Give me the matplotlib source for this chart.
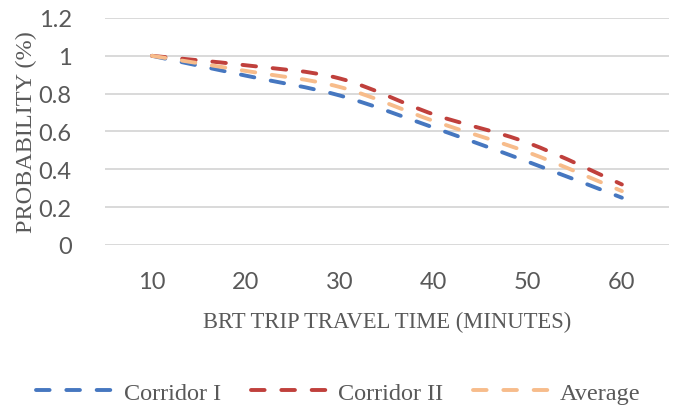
import matplotlib
matplotlib.use("Agg")
import matplotlib.pyplot as plt
from matplotlib.path import Path
from matplotlib.patches import PathPatch
from matplotlib.lines import Line2D
import numpy as np

times = [10, 20, 30, 40, 50, 60]
corridor_1 = [1.0, 0.895, 0.79, 0.62, 0.44, 0.25]
corridor_2 = [1.0, 0.95, 0.88, 0.69, 0.54, 0.32]
average = [1.0, 0.92, 0.835, 0.655, 0.49, 0.285]
y_ticks = [0, 0.2, 0.4, 0.6, 0.8, 1, 1.2]
y_tick_labels = ["0", "0.2", "0.4", "0.6", "0.8", "1", "1.2"]

series = [
    ("Corridor I", corridor_1, "#4677C0"),
    ("Corridor II", corridor_2, "#C0403C"),
    ("Average", average, "#F7BC8B"),
]

LW = 2.8
DASHES = (3.5, 4.3)
TEXT = "#595959"


def smooth_path(xs, ys):
    # excel-style smoothed line: catmull-rom segments as cubic beziers
    pts = np.column_stack([xs, ys]).astype(float)
    ext = np.vstack([pts[0], pts, pts[-1]])
    verts = [pts[0]]
    codes = [Path.MOVETO]
    for i in range(len(pts) - 1):
        p0, p1, p2, p3 = ext[i], ext[i + 1], ext[i + 2], ext[i + 3]
        verts += [p1 + (p2 - p0) / 6, p2 - (p3 - p1) / 6, p2]
        codes += [Path.CURVE4] * 3
    return Path(verts, codes)


fig = plt.figure(figsize=(6.77, 4.10), dpi=100)
ax = fig.add_axes([0.155, 0.4, 0.833, 0.5537])

x = np.arange(len(times))
handles = []
for name, vals, color in series:
    patch = PathPatch(smooth_path(x, vals), facecolor="none", edgecolor=color,
                      lw=LW, capstyle="round", zorder=3)
    patch.set_linestyle((0, DASHES))
    ax.add_patch(patch)
    handles.append(Line2D([], [], color=color, lw=LW, dashes=DASHES,
                          dash_capstyle="round", label=name))

ax.set_xlim(-0.5, len(times) - 0.5)
ax.set_ylim(0, 1.2)
ax.set_xticks(x)
ax.set_xticklabels([str(t) for t in times])
ax.set_yticks(y_ticks)
ax.set_yticklabels(y_tick_labels)
for lab in ax.get_xticklabels() + ax.get_yticklabels():
    lab.set_family("Lato")
    lab.set_fontsize(17)
    lab.set_color(TEXT)
ax.tick_params(length=0)
ax.tick_params(axis="x", pad=19)
ax.tick_params(axis="y", pad=24)
ax.grid(axis="y", color="#D9D9D9", lw=1.4)
ax.set_axisbelow(True)
for s in ax.spines.values():
    s.set_visible(False)

ax.set_xlabel("BRT TRIP TRAVEL TIME (MINUTES)", family="Liberation Serif",
              fontsize=16.3, color=TEXT, labelpad=13)
ax.set_ylabel("PROBABILITY (%)", family="Liberation Serif",
              fontsize=17.5, color=TEXT, labelpad=1)

fig.legend(handles=handles, loc="center", bbox_to_anchor=(0.5, 0.04), ncol=3,
           frameon=False, handlelength=3.3, handletextpad=0.29,
           columnspacing=1.23, prop={"family": "Liberation Serif", "size": 17.5},
           labelcolor=TEXT)

fig.savefig("out.png", dpi=100)
